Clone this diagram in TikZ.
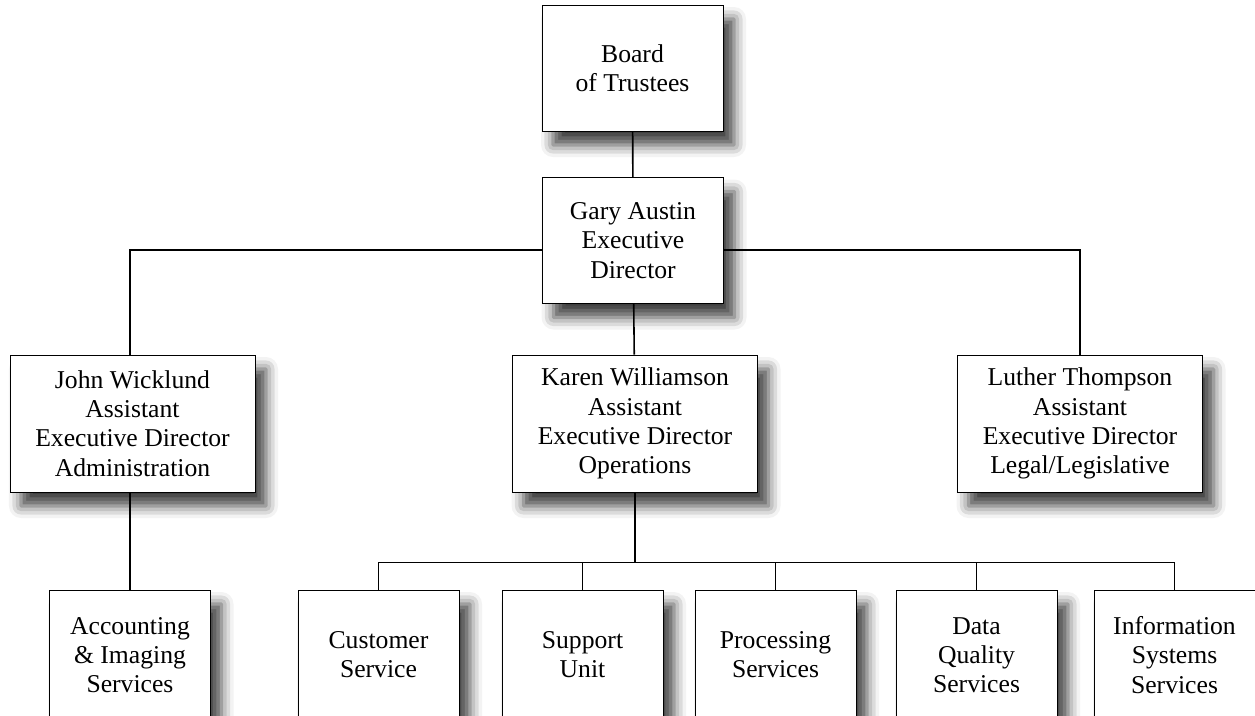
\documentclass[tikz,border=0pt]{standalone}
\usepackage{fontspec}
\setmainfont{Liberation Serif}
\usetikzlibrary{shadows.blur, positioning, calc}

\begin{document}
\begin{tikzpicture}
            [x=0.2mm, y=-0.2mm, semithick,
            unit/.style={rectangle, align=center, draw=black, thin, fill=white, inner sep=0pt,
              font=\fontsize{14.6}{16.6}\selectfont,
              blur shadow={shadow xshift=2.2mm, shadow yshift=-2.8mm, shadow blur radius=2.4mm, shadow opacity=75}},
            head/.style={unit, minimum width=36.2mm, minimum height=25.2mm},
            assist/.style={unit, minimum width=49mm, minimum height=27.4mm},
            dept/.style={unit, minimum width=32.2mm, minimum height=26mm},
            link/.style={draw=black, line width=0.9pt}]

            \useasboundingbox (0,0) rectangle (1255,715);
            \clip (0,0) rectangle (1255,715);

            \node[head] (board) at (632.5,68) {Board\\of Trustees};
            \node[head] (gary) at (633,240.5) {Gary Austin\\Executive\\Director};

            \node[assist] (john) at (132.5,423.5) {John Wicklund\\Assistant\\Executive Director\\Administration};
            \node[assist] (karen) at (635,423.5) {Karen Williamson\\Assistant\\Executive Director\\Operations};
            \node[assist] (luther) at (1080,423.5) {Luther Thompson\\Assistant\\Executive Director\\Legal/Legislative};

            \node[dept] (acct) at (130,655) {Accounting\\\& Imaging\\Services};
            \node[dept] (cust) at (378.5,655) {Customer\\Service};
            \node[dept] (support) at (582.5,655) {Support\\Unit};
            \node[dept] (proc) at (775.5,655) {Processing\\Services};
            \node[dept] (dataq) at (976.5,655) {Data\\Quality\\Services};
            \node[dept] (infosys) at (1174.5,655) {Information\\Systems\\Services};

            \draw[link] (board) -- (gary);
            \draw[link] ([yshift=-1.9mm]gary.west) -| (acct.north |- john.north);
            \draw[link] ([yshift=-1.9mm]gary.east) -| (luther.north);
            \draw[link] (gary) -- (karen);
            \draw[link] (acct.north |- john.south) -- (acct.north);

            \coordinate (bus) at ($(karen.south)+(0,70)$);
            \draw[link] (karen.south) -- (bus);
            \draw[link] (bus -| cust.north) -- (bus -| infosys.north);
            \foreach \d in {cust,support,proc,dataq,infosys}
              \draw[link] (bus -| \d.north) -- (\d.north);

          \end{tikzpicture}
\end{document}
